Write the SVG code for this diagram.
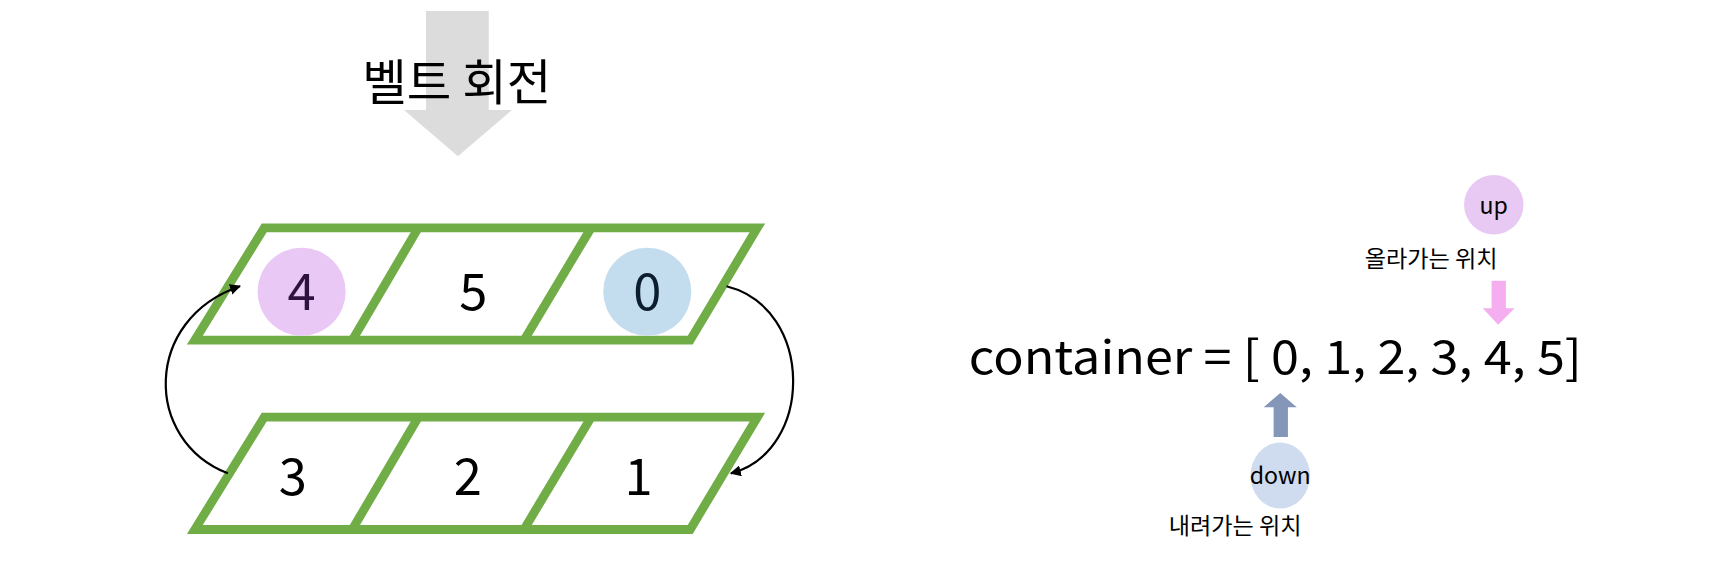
<svg xmlns="http://www.w3.org/2000/svg" width="1726" height="575" viewBox="0 0 1726 575">
<style>
.belt{fill:#fff;stroke:#70AD47;stroke-width:8;stroke-linejoin:miter}
.div{stroke:#70AD47;stroke-width:8}
.num{font-family:"Noto Sans CJK KR","Noto Sans",sans-serif;font-size:46px;text-anchor:middle;fill:#000}
.lbl{font-family:"Noto Sans CJK KR","Noto Sans",sans-serif;font-size:21px;text-anchor:middle;fill:#000}
.arc{fill:none;stroke:#000;stroke-width:2;marker-end:url(#ah)}
</style>
<defs>
<marker id="ah" viewBox="0 0 10 10" refX="9" refY="5" markerWidth="5" markerHeight="5" orient="auto"><path d="M0,0L10,5L0,10z" fill="#000"/></marker>
</defs>
<rect width="1726" height="575" fill="#fff"/>
<g transform="scale(1.1008)">
<g id="rotate-arrow">
<polygon points="387,10 444,10 444,100 465,100 416,142 367,100 387,100" fill="#DCDCDC"/>
<text x="415" y="91" font-family="'Noto Sans CJK KR',sans-serif" font-size="44" text-anchor="middle">벨트 회전</text>
</g>
<g id="top-belt">
<polygon class="belt" points="240,207 688,207 627,309 177,309"/>
<line class="div" x1="380" y1="207" x2="320" y2="309"/>
<line class="div" x1="537" y1="207" x2="476" y2="309"/>
<circle cx="274" cy="265" r="40" fill="#EAC8F6"/>
<circle cx="588" cy="265" r="40" fill="#C3DDEF"/>
<text class="num" x="274" y="282" fill="#2E1240" style="fill:#2E1240">4</text>
<text class="num" x="430" y="282">5</text>
<text class="num" x="588" y="282" style="fill:#0B1E2E">0</text>
</g>
<g id="bottom-belt">
<polygon class="belt" points="240,379 688,379 627,481 177,481"/>
<line class="div" x1="380" y1="379" x2="320" y2="481"/>
<line class="div" x1="537" y1="379" x2="476" y2="481"/>
<text class="num" x="266" y="450">3</text>
<text class="num" x="425" y="450">2</text>
<text class="num" x="580" y="450">1</text>
</g>
<g id="connectors">
<path class="arc" d="M207,430 C130,400 130,290 218,260"/>
<path class="arc" d="M660,260 C740,280 740,410 664,430"/>
</g>
<g id="container">
<text x="880" y="340" font-family="'Noto Sans CJK KR',sans-serif" font-size="42" textLength="557" lengthAdjust="spacingAndGlyphs">container = [ 0, 1, 2, 3, 4, 5]</text>
</g>
<g id="up">
<circle cx="1357" cy="186" r="27" fill="#E8C9F3"/>
<text class="lbl" x="1357" y="194">up</text>
<text class="lbl" x="1300" y="243">올라가는 위치</text>
<polygon points="1355,255 1368,255 1368,280 1376,280 1361,295 1347,280 1355,280" fill="#F5AEEF"/>
</g>
<g id="down">
<polygon points="1163,357 1178,370 1170,370 1170,397 1157,397 1157,370 1148,370" fill="#8497B8"/>
<ellipse cx="1163" cy="432" rx="27" ry="30" fill="#CFDBEF"/>
<text class="lbl" x="1163" y="440">down</text>
<text class="lbl" x="1122" y="485">내려가는 위치</text>
</g>
</g>
</svg>
